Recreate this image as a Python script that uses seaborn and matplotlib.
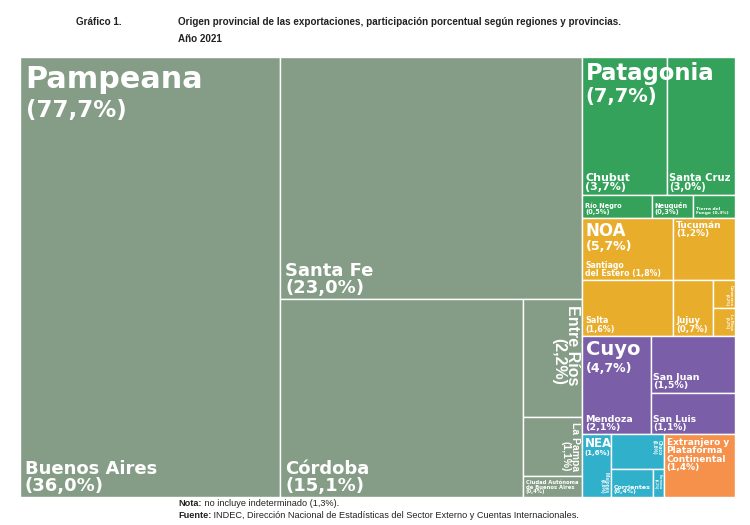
import matplotlib
matplotlib.use("Agg")
import matplotlib.pyplot as plt
from matplotlib.patches import Rectangle
import seaborn as sns

# Export shares by region, 2021 (%)
regions = ["Pampeana", "Patagonia", "NOA", "Cuyo", "NEA",
           "Extranjero y\nPlataforma\nContinental"]
region_share = [77.7, 7.7, 5.7, 4.7, 1.6, 1.4]

# Provinces inside each region (%)
pampeana_prov = ["Buenos Aires", "Santa Fe", "Córdoba", "Entre Ríos", "La Pampa",
                 "Ciudad Autónoma\nde Buenos Aires"]
pampeana_vals = [36.0, 23.0, 15.1, 2.2, 1.1, 0.4]
patagonia_prov = ["Chubut", "Santa Cruz", "Río Negro", "Neuquén", "Tierra del\nFuego"]
patagonia_vals = [3.7, 3.0, 0.5, 0.3, 0.3]
noa_prov = ["Santiago\ndel Estero", "Salta", "Tucumán", "Jujuy", "Catamarca", "La Rioja"]
noa_vals = [1.8, 1.6, 1.2, 0.7, 0.2, 0.2]
cuyo_prov = ["Mendoza", "San Juan", "San Luis"]
cuyo_vals = [2.1, 1.5, 1.1]
nea_prov = ["Misiones", "Chaco", "Corrientes", "Formosa"]
nea_vals = [0.6, 0.6, 0.4, 0.1]

provinces = {
    "Pampeana": (pampeana_prov, pampeana_vals),
    "Patagonia": (patagonia_prov, patagonia_vals),
    "NOA": (noa_prov, noa_vals),
    "Cuyo": (cuyo_prov, cuyo_vals),
    "NEA": (nea_prov, nea_vals),
}

region_colors = ["#859d86", "#34a25a", "#e9ad2c", "#7b5ea8", "#31b0cb", "#f5914b"]

# how each block is cut: "x" = side by side, "y" = stacked, ints = list index
top_layout = ("x", [0, ("y", [1, 2, 3, ("x", [4, 5])])])
prov_layouts = {
    "Pampeana": ("x", [0, ("y", [1, ("x", [2, ("y", [3, 4, 5])])])]),
    "Patagonia": ("y", [("x", [0, 1]), ("x", [2, 3, 4])]),
    "NOA": ("x", [("y", [0, 1]), ("y", [2, ("x", [3, ("y", [4, 5])])])]),
    "Cuyo": ("x", [0, ("y", [1, 2])]),
    "NEA": ("x", [0, ("y", [1, ("x", [2, 3])])]),
}

# region titles: name size, percent size, x/y offset (pt)
region_label = {
    "Pampeana": (21.8, 16.5, 4.0, -5.5), "Patagonia": (16.4, 14, 2.5, -3.5),
    "NOA": (12, 9, 2.5, -3), "Cuyo": (14, 9, 2.5, -2.5), "NEA": (8.5, 5, 1.5, -2),
}
# province labels: font size, corner, rotation
prov_label = {
    "Buenos Aires": (13, "bl", 0), "Santa Fe": (13, "bl", 0), "Córdoba": (13, "bl", 0),
    "Entre Ríos": (11.5, "tr", -90), "La Pampa": (7.5, "tr", -90),
    "Ciudad Autónoma\nde Buenos Aires": (3.8, "bl", 0),
    "Chubut": (8, "bl", 0), "Santa Cruz": (7.2, "bl", 0),
    "Río Negro": (4.8, "bl", 0), "Neuquén": (4.8, "bl", 0), "Tierra del\nFuego": (3.2, "bl", 0),
    "Santiago\ndel Estero": (5.6, "bl", 0), "Salta": (5.8, "bl", 0),
    "Tucumán": (6.5, "tl", 0), "Jujuy": (6.2, "bl", 0),
    "Catamarca": (3, "tr", -90), "La Rioja": (3, "tr", -90),
    "Mendoza": (6.8, "bl", 0), "San Juan": (6.8, "bl", 0), "San Luis": (6.6, "bl", 0),
    "Misiones": (3.5, "br", -90), "Chaco": (3.5, "tr", -90),
    "Corrientes": (4.5, "bl", 0), "Formosa": (2.5, "tr", -90),
}
same_line = {"Santiago\ndel Estero", "Tierra del\nFuego"}

wide_font = ["DejaVu Sans"]
narrow_font = ["Liberation Sans", "DejaVu Sans"]


def pct(v):
    return "(" + f"{v:.1f}".replace(".", ",") + "%)"


def weight(node, vals):
    if isinstance(node, int):
        return vals[node]
    return sum(weight(k, vals) for k in node[1])


def cut(node, vals, x, y, w, h, out):
    """Split a rectangle following the layout tree, sizes from the values."""
    if isinstance(node, int):
        out[node] = (x, y, w, h)
        return out
    axis, kids = node
    total = weight(node, vals)
    pos = x if axis == "x" else y
    for k in kids:
        f = weight(k, vals) / total
        if axis == "x":
            cut(k, vals, pos, y, w * f, h, out)
            pos += w * f
        else:
            cut(k, vals, x, pos, w, h * f, out)
            pos += h * f
    return out


def put_label(ax, text, rect, size, corner, rot):
    x, y, w, h = rect
    p = 3.5 if size >= 10 else 2.0
    spots = {
        "bl": ((x, y + h), (p, 1.8), "left", "bottom"),
        "tl": ((x, y), (p, -2.5), "left", "top"),
        "tr": ((x + w, y), (-1.5, -4), "right", "top"),
        "br": ((x + w, y + h), (-1.5, 2.5), "right", "bottom"),
    }
    xy, off, ha, va = spots[corner]
    ax.annotate(text, xy=xy, xytext=off, textcoords="offset points",
                ha=ha, va=va, rotation=rot, fontsize=size, color="white",
                fontweight="bold", linespacing=0.92,
                family=narrow_font if rot else wide_font)


sns.set_theme(style="white")
plt.rcParams["font.family"] = ["Liberation Sans", "DejaVu Sans"]

fig = plt.figure(figsize=(7.5, 5.25), dpi=100)
ax = fig.add_axes([20 / 750, 28 / 525, 715 / 750, 440 / 525])
ax.set_xlim(0, 1)
ax.set_ylim(1, 0)
ax.axis("off")

region_rects = cut(top_layout, region_share, 0, 0, 1, 1, {})

for i, reg in enumerate(regions):
    rect = region_rects[i]
    color = region_colors[i]
    if reg in provinces:
        names, vals = provinces[reg]
        cells = cut(prov_layouts[reg], vals, *rect, {})
        for j, name in enumerate(names):
            cx, cy, cw, ch = cells[j]
            ax.add_patch(Rectangle((cx, cy), cw, ch, facecolor=color,
                                   edgecolor="white", linewidth=1.0))
            sep = " " if name in same_line else "\n"
            size, corner, rot = prov_label[name]
            put_label(ax, name + sep + pct(vals[j]), cells[j], size, corner, rot)
        # region title in the top-left corner
        nsize, psize, dx, dy = region_label[reg]
        x, y = rect[0], rect[1]
        ax.annotate(reg, xy=(x, y), xytext=(dx, dy), textcoords="offset points",
                    ha="left", va="top", fontsize=nsize, color="white",
                    fontweight="bold", family=wide_font)
        ax.annotate(pct(region_share[i]), xy=(x, y), xytext=(dx, dy - nsize * 1.12),
                    textcoords="offset points", ha="left", va="top",
                    fontsize=psize, color="white", fontweight="bold", family=wide_font)
    else:
        ax.add_patch(Rectangle(rect[:2], rect[2], rect[3], facecolor=color,
                               edgecolor="white", linewidth=1.0))
        put_label(ax, reg + "\n" + pct(region_share[i]), rect, 6.5, "tl", 0)

# title block
ink = "#222222"
fig.text(76 / 750, 1 - 22 / 525, "Gráfico 1.", fontsize=7.1,
         fontweight="bold", va="center", color=ink)
fig.text(178 / 750, 1 - 22 / 525,
         "Origen provincial de las exportaciones, participación porcentual según regiones y provincias.",
         fontsize=7.1, fontweight="bold", va="center", color=ink)
fig.text(178 / 750, 1 - 39 / 525, "Año 2021", fontsize=7.1,
         fontweight="bold", va="center", color=ink)

# notes under the chart
fig.canvas.draw()
renderer = fig.canvas.get_renderer()
notes = [("Nota:", " no incluye indeterminado (1,3%)."),
         ("Fuente:", " INDEC, Dirección Nacional de Estadísticas del Sector Externo y Cuentas Internacionales.")]
for k, (head, body) in enumerate(notes):
    ypos = 1 - (504 + 11 * k) / 525
    t = fig.text(178 / 750, ypos, head, fontsize=6.6, fontweight="bold", va="center", color=ink)
    bb = t.get_window_extent(renderer)
    fig.text(bb.x1 / 750, ypos, body, fontsize=6.6, va="center", color=ink)

fig.savefig("out.png", dpi=100)
